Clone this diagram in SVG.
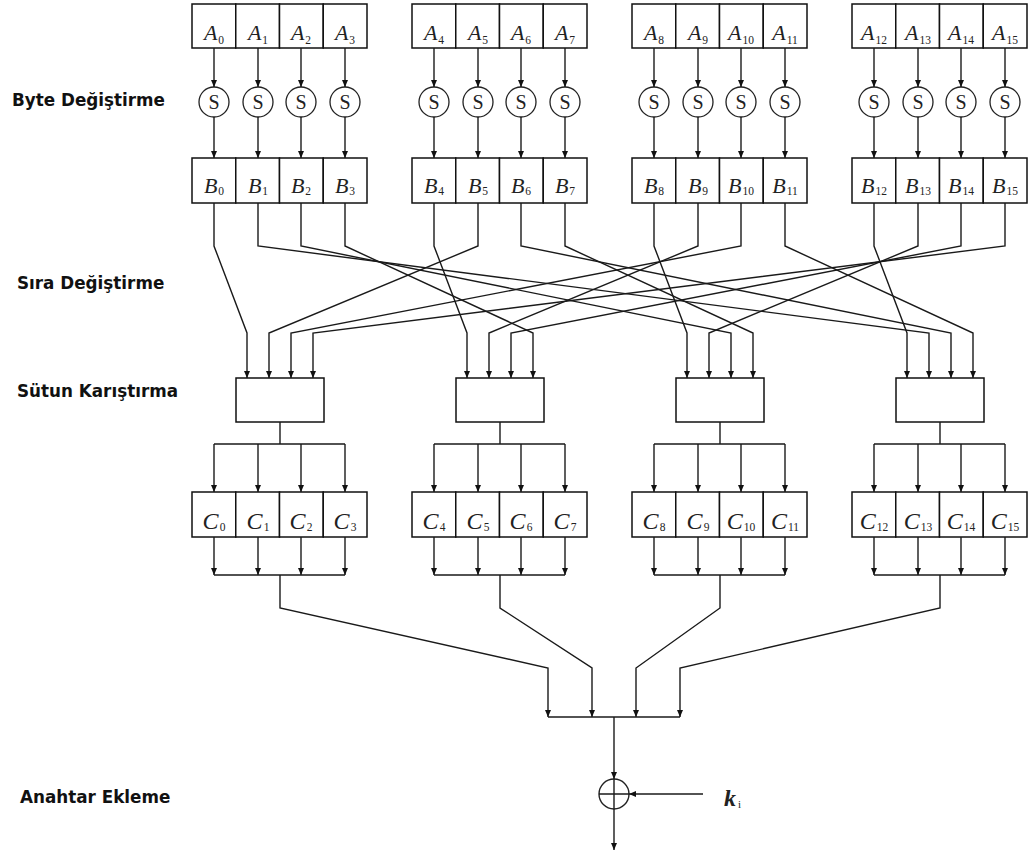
<svg xmlns="http://www.w3.org/2000/svg" width="1030" height="854" viewBox="0 0 1030 854">
  <defs>
    <marker id="ah" markerUnits="userSpaceOnUse" markerWidth="8" markerHeight="6" refX="7" refY="3" orient="auto">
      <path d="M0,0 L7,3 L0,6 z" fill="#111"/>
    </marker>
    <style>
      .cell { fill: #fff; stroke: #111; stroke-width: 1.5; }
      .box { fill: #fff; stroke: #111; stroke-width: 1.5; }
      .sbox { fill: #fff; stroke: #222; stroke-width: 1.3; }
      .wire { fill: none; stroke: #1a1a1a; stroke-width: 1.4; }
      .arr { fill: none; stroke: #1a1a1a; stroke-width: 1.4; marker-end: url(#ah); }
      .lbl { font-family: "DejaVu Sans", "Liberation Sans", sans-serif; font-weight: bold; font-size: 16.8px; fill: #111; }
      .v { font-family: "Liberation Serif", "Times New Roman", serif; font-style: italic; font-size: 22px; fill: #222; text-anchor: middle; }
      .vc { font-family: "Liberation Serif", "Times New Roman", serif; font-style: italic; font-size: 24px; fill: #222; text-anchor: middle; }
      .sub { font-size: 11.5px; font-style: normal; }
      .s { font-family: "Liberation Serif", "Times New Roman", serif; font-size: 20px; fill: #222; text-anchor: middle; }
    </style>
  </defs>
  <rect width="1030" height="854" fill="#fff"/>

  <!-- stage labels -->
  <g id="labels">
    <text class="lbl" x="12" y="106">Byte Değiştirme</text>
    <text class="lbl" x="17" y="289">Sıra Değiştirme</text>
    <text class="lbl" x="17" y="397">Sütun Karıştırma</text>
    <text class="lbl" x="20" y="803">Anahtar Ekleme</text>
  </g>

  <!-- input bytes A -->
  <g id="row-a">
    <rect class="cell" x="192" y="4" width="43.75" height="44"/><rect class="cell" x="235.75" y="4" width="43.75" height="44"/><rect class="cell" x="279.5" y="4" width="43.75" height="44"/><rect class="cell" x="323.25" y="4" width="43.75" height="44"/>
    <rect class="cell" x="412" y="4" width="43.75" height="44"/><rect class="cell" x="455.75" y="4" width="43.75" height="44"/><rect class="cell" x="499.5" y="4" width="43.75" height="44"/><rect class="cell" x="543.25" y="4" width="43.75" height="44"/>
    <rect class="cell" x="632" y="4" width="43.75" height="44"/><rect class="cell" x="675.75" y="4" width="43.75" height="44"/><rect class="cell" x="719.5" y="4" width="43.75" height="44"/><rect class="cell" x="763.25" y="4" width="43.75" height="44"/>
    <rect class="cell" x="852" y="4" width="43.75" height="44"/><rect class="cell" x="895.75" y="4" width="43.75" height="44"/><rect class="cell" x="939.5" y="4" width="43.75" height="44"/><rect class="cell" x="983.25" y="4" width="43.75" height="44"/>
    <text class="v" x="214" y="40">A<tspan class="sub" dx="1" dy="4">0</tspan></text>
    <text class="v" x="258" y="40">A<tspan class="sub" dx="1" dy="4">1</tspan></text>
    <text class="v" x="301" y="40">A<tspan class="sub" dx="1" dy="4">2</tspan></text>
    <text class="v" x="345" y="40">A<tspan class="sub" dx="1" dy="4">3</tspan></text>
    <text class="v" x="434" y="40">A<tspan class="sub" dx="1" dy="4">4</tspan></text>
    <text class="v" x="478" y="40">A<tspan class="sub" dx="1" dy="4">5</tspan></text>
    <text class="v" x="521" y="40">A<tspan class="sub" dx="1" dy="4">6</tspan></text>
    <text class="v" x="565" y="40">A<tspan class="sub" dx="1" dy="4">7</tspan></text>
    <text class="v" x="654" y="40">A<tspan class="sub" dx="1" dy="4">8</tspan></text>
    <text class="v" x="698" y="40">A<tspan class="sub" dx="1" dy="4">9</tspan></text>
    <text class="v" x="741" y="40">A<tspan class="sub" dx="1" dy="4">10</tspan></text>
    <text class="v" x="785" y="40">A<tspan class="sub" dx="1" dy="4">11</tspan></text>
    <text class="v" x="874" y="40">A<tspan class="sub" dx="1" dy="4">12</tspan></text>
    <text class="v" x="918" y="40">A<tspan class="sub" dx="1" dy="4">13</tspan></text>
    <text class="v" x="961" y="40">A<tspan class="sub" dx="1" dy="4">14</tspan></text>
    <text class="v" x="1005" y="40">A<tspan class="sub" dx="1" dy="4">15</tspan></text>
  </g>

  <!-- S-boxes -->
  <g id="sboxes">
    <circle class="sbox" cx="214" cy="102" r="15"/><circle class="sbox" cx="258" cy="102" r="15"/><circle class="sbox" cx="301" cy="102" r="15"/><circle class="sbox" cx="345" cy="102" r="15"/>
    <circle class="sbox" cx="434" cy="102" r="15"/><circle class="sbox" cx="478" cy="102" r="15"/><circle class="sbox" cx="521" cy="102" r="15"/><circle class="sbox" cx="565" cy="102" r="15"/>
    <circle class="sbox" cx="654" cy="102" r="15"/><circle class="sbox" cx="698" cy="102" r="15"/><circle class="sbox" cx="741" cy="102" r="15"/><circle class="sbox" cx="785" cy="102" r="15"/>
    <circle class="sbox" cx="874" cy="102" r="15"/><circle class="sbox" cx="918" cy="102" r="15"/><circle class="sbox" cx="961" cy="102" r="15"/><circle class="sbox" cx="1005" cy="102" r="15"/>
    <text class="s" x="214" y="109">S</text><text class="s" x="258" y="109">S</text><text class="s" x="301" y="109">S</text><text class="s" x="345" y="109">S</text>
    <text class="s" x="434" y="109">S</text><text class="s" x="478" y="109">S</text><text class="s" x="521" y="109">S</text><text class="s" x="565" y="109">S</text>
    <text class="s" x="654" y="109">S</text><text class="s" x="698" y="109">S</text><text class="s" x="741" y="109">S</text><text class="s" x="785" y="109">S</text>
    <text class="s" x="874" y="109">S</text><text class="s" x="918" y="109">S</text><text class="s" x="961" y="109">S</text><text class="s" x="1005" y="109">S</text>
  </g>

  <!-- substituted bytes B -->
  <g id="row-b">
    <rect class="cell" x="192" y="158" width="43.75" height="45"/><rect class="cell" x="235.75" y="158" width="43.75" height="45"/><rect class="cell" x="279.5" y="158" width="43.75" height="45"/><rect class="cell" x="323.25" y="158" width="43.75" height="45"/>
    <rect class="cell" x="412" y="158" width="43.75" height="45"/><rect class="cell" x="455.75" y="158" width="43.75" height="45"/><rect class="cell" x="499.5" y="158" width="43.75" height="45"/><rect class="cell" x="543.25" y="158" width="43.75" height="45"/>
    <rect class="cell" x="632" y="158" width="43.75" height="45"/><rect class="cell" x="675.75" y="158" width="43.75" height="45"/><rect class="cell" x="719.5" y="158" width="43.75" height="45"/><rect class="cell" x="763.25" y="158" width="43.75" height="45"/>
    <rect class="cell" x="852" y="158" width="43.75" height="45"/><rect class="cell" x="895.75" y="158" width="43.75" height="45"/><rect class="cell" x="939.5" y="158" width="43.75" height="45"/><rect class="cell" x="983.25" y="158" width="43.75" height="45"/>
    <text class="v" x="214" y="193">B<tspan class="sub" dx="1" dy="2">0</tspan></text>
    <text class="v" x="258" y="193">B<tspan class="sub" dx="1" dy="2">1</tspan></text>
    <text class="v" x="301" y="193">B<tspan class="sub" dx="1" dy="2">2</tspan></text>
    <text class="v" x="345" y="193">B<tspan class="sub" dx="1" dy="2">3</tspan></text>
    <text class="v" x="434" y="193">B<tspan class="sub" dx="1" dy="2">4</tspan></text>
    <text class="v" x="478" y="193">B<tspan class="sub" dx="1" dy="2">5</tspan></text>
    <text class="v" x="521" y="193">B<tspan class="sub" dx="1" dy="2">6</tspan></text>
    <text class="v" x="565" y="193">B<tspan class="sub" dx="1" dy="2">7</tspan></text>
    <text class="v" x="654" y="193">B<tspan class="sub" dx="1" dy="2">8</tspan></text>
    <text class="v" x="698" y="193">B<tspan class="sub" dx="1" dy="2">9</tspan></text>
    <text class="v" x="741" y="193">B<tspan class="sub" dx="1" dy="2">10</tspan></text>
    <text class="v" x="785" y="193">B<tspan class="sub" dx="1" dy="2">11</tspan></text>
    <text class="v" x="874" y="193">B<tspan class="sub" dx="1" dy="2">12</tspan></text>
    <text class="v" x="918" y="193">B<tspan class="sub" dx="1" dy="2">13</tspan></text>
    <text class="v" x="961" y="193">B<tspan class="sub" dx="1" dy="2">14</tspan></text>
    <text class="v" x="1005" y="193">B<tspan class="sub" dx="1" dy="2">15</tspan></text>
  </g>

  <!-- column mixers -->
  <g id="mix-0"><rect class="box" x="236" y="378" width="88" height="44"/></g>
  <g id="mix-1"><rect class="box" x="456" y="378" width="88" height="44"/></g>
  <g id="mix-2"><rect class="box" x="676" y="378" width="88" height="44"/></g>
  <g id="mix-3"><rect class="box" x="896" y="378" width="88" height="44"/></g>

  <!-- mixed bytes C -->
  <g id="row-c">
    <rect class="cell" x="192" y="492" width="43.75" height="45"/><rect class="cell" x="235.75" y="492" width="43.75" height="45"/><rect class="cell" x="279.5" y="492" width="43.75" height="45"/><rect class="cell" x="323.25" y="492" width="43.75" height="45"/>
    <rect class="cell" x="412" y="492" width="43.75" height="45"/><rect class="cell" x="455.75" y="492" width="43.75" height="45"/><rect class="cell" x="499.5" y="492" width="43.75" height="45"/><rect class="cell" x="543.25" y="492" width="43.75" height="45"/>
    <rect class="cell" x="632" y="492" width="43.75" height="45"/><rect class="cell" x="675.75" y="492" width="43.75" height="45"/><rect class="cell" x="719.5" y="492" width="43.75" height="45"/><rect class="cell" x="763.25" y="492" width="43.75" height="45"/>
    <rect class="cell" x="852" y="492" width="43.75" height="45"/><rect class="cell" x="895.75" y="492" width="43.75" height="45"/><rect class="cell" x="939.5" y="492" width="43.75" height="45"/><rect class="cell" x="983.25" y="492" width="43.75" height="45"/>
    <text class="vc" x="214" y="529">C<tspan class="sub" dx="1" dy="2">0</tspan></text>
    <text class="vc" x="258" y="529">C<tspan class="sub" dx="1" dy="2">1</tspan></text>
    <text class="vc" x="301" y="529">C<tspan class="sub" dx="1" dy="2">2</tspan></text>
    <text class="vc" x="345" y="529">C<tspan class="sub" dx="1" dy="2">3</tspan></text>
    <text class="vc" x="434" y="529">C<tspan class="sub" dx="1" dy="2">4</tspan></text>
    <text class="vc" x="478" y="529">C<tspan class="sub" dx="1" dy="2">5</tspan></text>
    <text class="vc" x="521" y="529">C<tspan class="sub" dx="1" dy="2">6</tspan></text>
    <text class="vc" x="565" y="529">C<tspan class="sub" dx="1" dy="2">7</tspan></text>
    <text class="vc" x="654" y="529">C<tspan class="sub" dx="1" dy="2">8</tspan></text>
    <text class="vc" x="698" y="529">C<tspan class="sub" dx="1" dy="2">9</tspan></text>
    <text class="vc" x="741" y="529">C<tspan class="sub" dx="1" dy="2">10</tspan></text>
    <text class="vc" x="785" y="529">C<tspan class="sub" dx="1" dy="2">11</tspan></text>
    <text class="vc" x="874" y="529">C<tspan class="sub" dx="1" dy="2">12</tspan></text>
    <text class="vc" x="918" y="529">C<tspan class="sub" dx="1" dy="2">13</tspan></text>
    <text class="vc" x="961" y="529">C<tspan class="sub" dx="1" dy="2">14</tspan></text>
    <text class="vc" x="1005" y="529">C<tspan class="sub" dx="1" dy="2">15</tspan></text>
  </g>

  <!-- round key addition -->
  <g id="xor">
    <circle cx="614" cy="794" r="15" fill="none" stroke="#222" stroke-width="1.4"/>
    <path class="wire" d="M599,794 H629 M614,779 V809"/>
  </g>
  <g id="key">
    <text x="724" y="806" font-family="Liberation Serif, Times New Roman, serif" font-style="italic" font-weight="bold" font-size="24" fill="#222">k<tspan font-size="11" font-style="normal" font-weight="normal" dx="2" dy="2">i</tspan></text>
  </g>

  <g id="connectors">
    <!-- A to S, S to B -->
    <path class="arr" d="M214,48 V87"/><path class="arr" d="M258,48 V87"/><path class="arr" d="M301,48 V87"/><path class="arr" d="M345,48 V87"/>
    <path class="arr" d="M434,48 V87"/><path class="arr" d="M478,48 V87"/><path class="arr" d="M521,48 V87"/><path class="arr" d="M565,48 V87"/>
    <path class="arr" d="M654,48 V87"/><path class="arr" d="M698,48 V87"/><path class="arr" d="M741,48 V87"/><path class="arr" d="M785,48 V87"/>
    <path class="arr" d="M874,48 V87"/><path class="arr" d="M918,48 V87"/><path class="arr" d="M961,48 V87"/><path class="arr" d="M1005,48 V87"/>
    <path class="arr" d="M214,117 V158"/><path class="arr" d="M258,117 V158"/><path class="arr" d="M301,117 V158"/><path class="arr" d="M345,117 V158"/>
    <path class="arr" d="M434,117 V158"/><path class="arr" d="M478,117 V158"/><path class="arr" d="M521,117 V158"/><path class="arr" d="M565,117 V158"/>
    <path class="arr" d="M654,117 V158"/><path class="arr" d="M698,117 V158"/><path class="arr" d="M741,117 V158"/><path class="arr" d="M785,117 V158"/>
    <path class="arr" d="M874,117 V158"/><path class="arr" d="M918,117 V158"/><path class="arr" d="M961,117 V158"/><path class="arr" d="M1005,117 V158"/>

    <!-- row shift wiring into the column mixers -->
    <path class="arr" d="M214,203 V246 L247,333 V378"/>
    <path class="arr" d="M478,203 V246 L269,333 V378"/>
    <path class="arr" d="M741,203 V246 L291,333 V378"/>
    <path class="arr" d="M1005,203 V246 L313,333 V378"/>
    <path class="arr" d="M434,203 V246 L467,333 V378"/>
    <path class="arr" d="M698,203 V246 L489,333 V378"/>
    <path class="arr" d="M961,203 V246 L511,333 V378"/>
    <path class="arr" d="M345,203 V246 L533,333 V378"/>
    <path class="arr" d="M654,203 V246 L687,333 V378"/>
    <path class="arr" d="M918,203 V246 L709,333 V378"/>
    <path class="arr" d="M301,203 V246 L731,333 V378"/>
    <path class="arr" d="M565,203 V246 L753,333 V378"/>
    <path class="arr" d="M874,203 V246 L907,333 V378"/>
    <path class="arr" d="M258,203 V246 L929,333 V378"/>
    <path class="arr" d="M521,203 V246 L951,333 V378"/>
    <path class="arr" d="M785,203 V246 L973,333 V378"/>

    <!-- mixer outputs fanned to C -->
    <path class="wire" d="M280,422 V444 M214,444 H345 M500,422 V444 M434,444 H565 M720,422 V444 M654,444 H785 M940,422 V444 M874,444 H1005"/>
    <path class="arr" d="M214,444 V492"/><path class="arr" d="M258,444 V492"/><path class="arr" d="M301,444 V492"/><path class="arr" d="M345,444 V492"/>
    <path class="arr" d="M434,444 V492"/><path class="arr" d="M478,444 V492"/><path class="arr" d="M521,444 V492"/><path class="arr" d="M565,444 V492"/>
    <path class="arr" d="M654,444 V492"/><path class="arr" d="M698,444 V492"/><path class="arr" d="M741,444 V492"/><path class="arr" d="M785,444 V492"/>
    <path class="arr" d="M874,444 V492"/><path class="arr" d="M918,444 V492"/><path class="arr" d="M961,444 V492"/><path class="arr" d="M1005,444 V492"/>

    <!-- C columns gathered -->
    <path class="arr" d="M214,537 V575"/><path class="arr" d="M258,537 V575"/><path class="arr" d="M301,537 V575"/><path class="arr" d="M345,537 V575"/>
    <path class="arr" d="M434,537 V575"/><path class="arr" d="M478,537 V575"/><path class="arr" d="M521,537 V575"/><path class="arr" d="M565,537 V575"/>
    <path class="arr" d="M654,537 V575"/><path class="arr" d="M698,537 V575"/><path class="arr" d="M741,537 V575"/><path class="arr" d="M785,537 V575"/>
    <path class="arr" d="M874,537 V575"/><path class="arr" d="M918,537 V575"/><path class="arr" d="M961,537 V575"/><path class="arr" d="M1005,537 V575"/>
    <path class="wire" d="M214,575 H345 M434,575 H565 M654,575 H785 M874,575 H1005"/>

    <!-- columns merged into the state -->
    <path class="arr" d="M280,575 V608 L548,668 V717"/>
    <path class="arr" d="M500,575 V608 L592,668 V717"/>
    <path class="arr" d="M720,575 V608 L636,668 V717"/>
    <path class="arr" d="M940,575 V608 L680,668 V717"/>
    <path class="wire" d="M548,717 H680"/>
    <path class="arr" d="M614,717 V779"/>
    <path class="arr" d="M703,794 H629"/>
    <path class="arr" d="M614,809 V850"/>
  </g>
</svg>
